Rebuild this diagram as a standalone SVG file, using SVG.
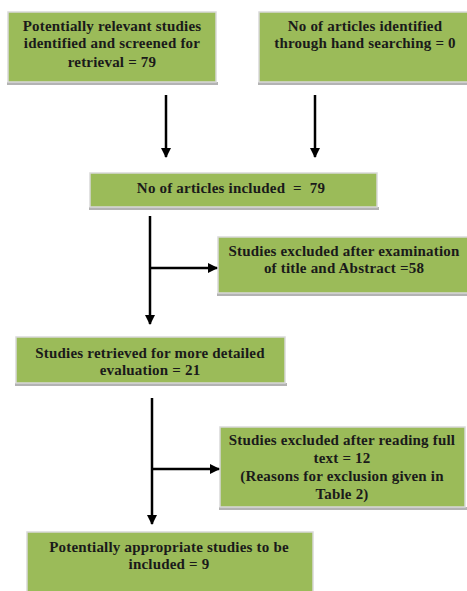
<svg xmlns="http://www.w3.org/2000/svg" width="467" height="591" viewBox="0 0 467 591">
<style>
.box{fill:#9bbb59;stroke:#d9d9d9;stroke-width:1.5}
.sh{fill:#b3b3b3}
.t{font-family:"Liberation Serif","Times New Roman",serif;font-weight:bold;font-size:15px;letter-spacing:0.2px;fill:#1a1a1a;text-anchor:middle}
.c{stroke:#000;stroke-width:2.5;fill:none}
</style>
<defs>
<marker id="ah" viewBox="0 0 10 10" refX="9" refY="5" markerWidth="4" markerHeight="4" orient="auto" markerUnits="strokeWidth">
<path d="M0,0 L10,5 L0,10 z" fill="#000"/>
</marker>
</defs>
<rect width="467" height="591" fill="#fff"/>
<g id="n1">
<rect class="sh" x="7" y="82" width="211" height="3"/>
<rect class="box" x="8" y="12" width="208" height="70"/>
<text class="t" x="112" y="31">Potentially relevant studies</text>
<text class="t" x="112" y="48">identified and screened for</text>
<text class="t" x="112" y="67">retrieval = 79</text>
</g>
<g id="n2">
<rect class="sh" x="258" y="82" width="212" height="3"/>
<rect class="box" x="259" y="12" width="212" height="70"/>
<text class="t" x="365" y="31">No of articles identified</text>
<text class="t" x="365" y="48">through hand searching = 0</text>
</g>
<g id="n3">
<rect class="sh" x="89" y="207" width="290" height="3"/>
<rect class="box" x="90" y="173" width="287" height="34"/>
<text class="t" x="231" y="193" xml:space="preserve">No of articles included  =  79</text>
</g>
<g id="n4">
<rect class="sh" x="217" y="293" width="254" height="3"/>
<rect class="box" x="218" y="237" width="252" height="56"/>
<text class="t" x="344" y="256">Studies excluded after examination</text>
<text class="t" x="344" y="273">of title and Abstract =58</text>
</g>
<g id="n5">
<rect class="sh" x="15" y="383" width="272" height="3"/>
<rect class="box" x="16" y="337" width="269" height="46"/>
<text class="t" x="150" y="358">Studies retrieved for more detailed</text>
<text class="t" x="150" y="375">evaluation = 21</text>
</g>
<g id="n6">
<rect class="sh" x="219" y="507" width="248" height="3"/>
<rect class="box" x="220" y="427" width="245" height="80"/>
<text class="t" x="342" y="445">Studies excluded after reading full</text>
<text class="t" x="342" y="463">text = 12</text>
<text class="t" x="342" y="481">(Reasons for exclusion given in</text>
<text class="t" x="342" y="499">Table 2)</text>
</g>
<g id="n7">
<rect class="box" x="27" y="532" width="286" height="62"/>
<text class="t" x="169" y="552">Potentially appropriate studies to be</text>
<text class="t" x="169" y="569">included = 9</text>
</g>
<g id="connectors">
<line class="c" x1="166" y1="95" x2="166" y2="157" marker-end="url(#ah)"/>
<line class="c" x1="315" y1="95" x2="315" y2="157" marker-end="url(#ah)"/>
<line class="c" x1="150" y1="216" x2="150" y2="324" marker-end="url(#ah)"/>
<line class="c" x1="150" y1="268" x2="217" y2="268" marker-end="url(#ah)"/>
<line class="c" x1="152" y1="398" x2="152" y2="524" marker-end="url(#ah)"/>
<line class="c" x1="152" y1="469" x2="219" y2="469" marker-end="url(#ah)"/>
</g>
</svg>
